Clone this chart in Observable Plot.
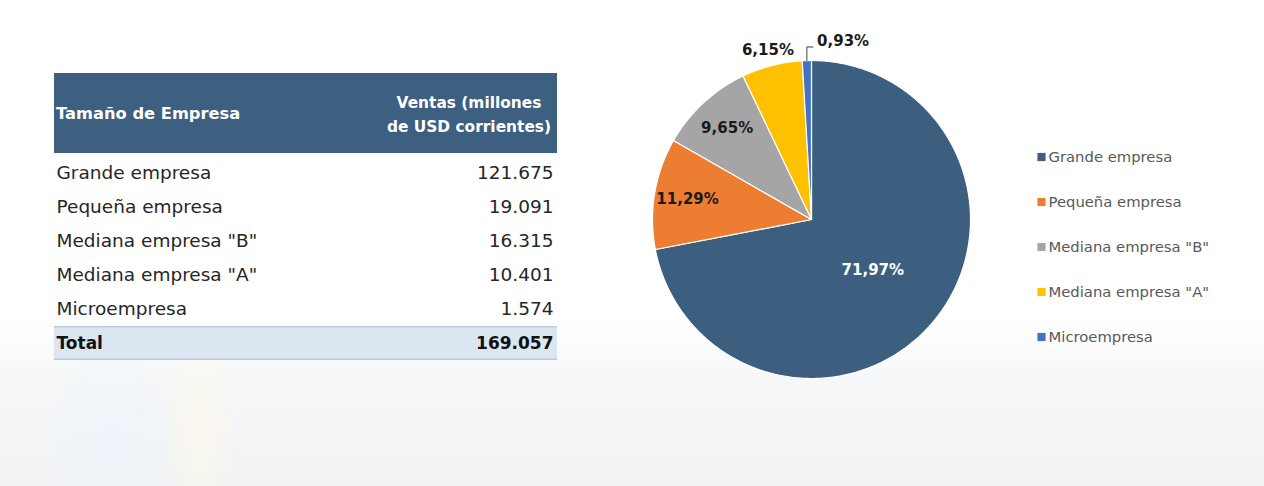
<!DOCTYPE html>
<html><head><meta charset="utf-8">
<script src="https://cdn.jsdelivr.net/npm/d3@7"></script>
<script src="https://cdn.jsdelivr.net/npm/@observablehq/plot@0.6"></script>
<style>
body{margin:0;}
#root{position:relative;width:1264px;height:486px;overflow:hidden;
 background:
  radial-gradient(ellipse 70px 120px at 110px 440px, rgba(235,244,252,0.7), rgba(255,255,255,0) 100%),
  radial-gradient(ellipse 40px 110px at 200px 430px, rgba(255,250,230,0.6), rgba(255,255,255,0) 100%),
  linear-gradient(to bottom,#ffffff 0%,#ffffff 66%,#f5f6f7 80%,#f1f2f4 100%);
 font-family:"DejaVu Sans",sans-serif;}
.abs{position:absolute;}
#hdr{left:54px;top:73px;width:503px;height:80px;background:#3d5f80;color:#fff;font-weight:bold;font-size:16.3px;font-family:"DejaVu Sans",sans-serif;}
#hdr .l{position:absolute;left:2px;top:31px;white-space:nowrap;}
#hdr .r{position:absolute;left:315px;width:200px;top:18px;text-align:center;line-height:24px;white-space:nowrap;font-size:15.4px;}
svg{overflow:visible;}
</style></head><body><div id="root"></div>
<script>
const categories = ["Grande empresa","Pequeña empresa",'Mediana empresa "B"','Mediana empresa "A"',"Microempresa"];
const sales = [121675,19091,16315,10401,1574];
const totalSales = 169057;
const shares = [71.97,11.29,9.65,6.15,0.93];
const colors = ["#3c5f80","#ed7d31","#a5a5a5","#ffc000","#4472c4"];
const headerLeft = "Tamaño de Empresa";
const headerRight = ["Ventas (millones","de USD corrientes)"];
const totalLabel = "Total";

const FONT = "DejaVu Sans, sans-serif";
const root = document.getElementById("root");
const loc = d3.formatLocale({decimal:",",thousands:".",grouping:[3],currency:["",""]});
const fmtInt = loc.format(",d");
const fmtPct = d => loc.format(".2f")(d) + "%";

// Header
const hdr = document.createElement("div");
hdr.id = "hdr"; hdr.className = "abs";
const hl = document.createElement("div"); hl.className = "l"; hl.textContent = headerLeft;
const hr = document.createElement("div"); hr.className = "r";
headerRight.forEach((s,i)=>{ if(i) hr.appendChild(document.createElement("br")); hr.appendChild(document.createTextNode(s)); });
hdr.appendChild(hl); hdr.appendChild(hr);
root.appendChild(hdr);

// Table rows
const rows = categories.map((c,i)=>({k:c, v:sales[i], bold:false})).concat([{k:totalLabel, v:totalSales, bold:true}]);
const totalRow = rows.filter(d=>d.bold);
const plainRows = rows.filter(d=>!d.bold);
const tablePlot = Plot.plot({
  width:503, height:207, margin:0,
  style:{background:"transparent", overflow:"visible", fontFamily:FONT},
  x:{domain:[0,1], axis:null},
  y:{type:"band", domain:rows.map(d=>d.k), axis:null, padding:0},
  marks:[
    Plot.barX(totalRow, {x1:0, x2:1, y:"k", fill:"#dce6f1"}),
    Plot.barX(totalRow, {x1:0, x2:1, y:"k", fill:"#b8cbe0", insetBottom:32.5}),
    Plot.barX(totalRow, {x1:0, x2:1, y:"k", fill:"#b8cbe0", insetTop:32.5}),
    Plot.text(plainRows, {x:0, y:"k", text:"k", textAnchor:"start", dx:2, fontSize:18.5, fill:"#262626"}),
    Plot.text(plainRows, {x:1, y:"k", text:d=>fmtInt(d.v), textAnchor:"end", dx:-4, fontSize:18.5, fill:"#262626"}),
    Plot.text(totalRow, {x:0, y:"k", text:"k", textAnchor:"start", dx:2, fontSize:17, fontWeight:"bold", fill:"#111"}),
    Plot.text(totalRow, {x:1, y:"k", text:d=>fmtInt(d.v), textAnchor:"end", dx:-4, fontSize:17, fontWeight:"bold", fill:"#111"})
  ]
});
tablePlot.classList.add("abs");
tablePlot.style.left = "54px"; tablePlot.style.top = "154px";
root.appendChild(tablePlot);

// Pie
const arcs = d3.pie().sort(null).value(d=>d)(shares);
const slices = [];
arcs.forEach((p,i)=>{
  slices.push({k:categories[i], x:0, y:0});
  const n = Math.max(3, Math.ceil((p.endAngle-p.startAngle)/0.01));
  for (let j=0;j<=n;j++){
    const a = p.startAngle + (p.endAngle-p.startAngle)*j/n;
    slices.push({k:categories[i], x:Math.sin(a), y:Math.cos(a)});
  }
});
const labelR = [0.5, 0.79, 0.78, 1.1, null];
const labels = arcs.map((p,i)=>{
  const a = (p.startAngle+p.endAngle)/2;
  return {k:categories[i], t:fmtPct(shares[i]), a, r:labelR[i]};
});
const inLabels = labels.filter(d=>d.r!==null);
const last = labels[labels.length-1];
const leader = [
  {x:Math.sin(last.a)*1.0, y:Math.cos(last.a)*1.0},
  {x:Math.sin(last.a)*1.0, y:1.085},
  {x:0.01, y:1.085}
];
const PR = 159, PW = 400, PH = 486, CY = 219;
const piePlot = Plot.plot({
  width:PW, height:PH, margin:0,
  style:{background:"transparent", overflow:"visible", fontFamily:FONT},
  x:{domain:[-(PW/2)/PR, (PW/2)/PR], axis:null},
  y:{domain:[-(PH-CY)/PR, CY/PR], axis:null},
  color:{domain:categories, range:colors},
  marks:[
    Plot.line(slices, {x:"x", y:"y", z:"k", fill:"k", stroke:"white", strokeWidth:1.2, curve:"linear-closed"}),
    Plot.line(leader, {x:"x", y:"y", stroke:"#404040", strokeWidth:1}),
    Plot.text(inLabels, {x:d=>Math.sin(d.a)*d.r, y:d=>Math.cos(d.a)*d.r, text:"t", fontSize:15, fontWeight:"bold",
      fill:d=>d.k===categories[0]?"#ffffff":"#1a1a1a"}),
    Plot.text([last], {x:0.035, y:1.12, text:"t", textAnchor:"start", fontSize:15, fontWeight:"bold", fill:"#1a1a1a"})
  ]
});
piePlot.classList.add("abs");
piePlot.style.left = (811-PW/2)+"px"; piePlot.style.top = "0px";
root.appendChild(piePlot);

// Legend
const legendPlot = Plot.plot({
  width:220, height:229, marginTop:0, marginBottom:0, marginLeft:5, marginRight:0,
  style:{background:"transparent", overflow:"visible", fontFamily:FONT},
  x:{domain:[0,1], axis:null},
  y:{type:"band", domain:categories, axis:null, padding:0},
  color:{domain:categories, range:colors},
  marks:[
    Plot.dot(categories, {x:0, y:d=>d, fill:d=>d, symbol:"square", r:4.6, stroke:null}),
    Plot.text(categories, {x:0, y:d=>d, text:d=>d, dx:7, textAnchor:"start", fontSize:14.8, fill:"#595959"})
  ]
});
legendPlot.classList.add("abs");
legendPlot.style.left = "1036px"; legendPlot.style.top = "132px";
root.appendChild(legendPlot);
</script>
</body></html>
